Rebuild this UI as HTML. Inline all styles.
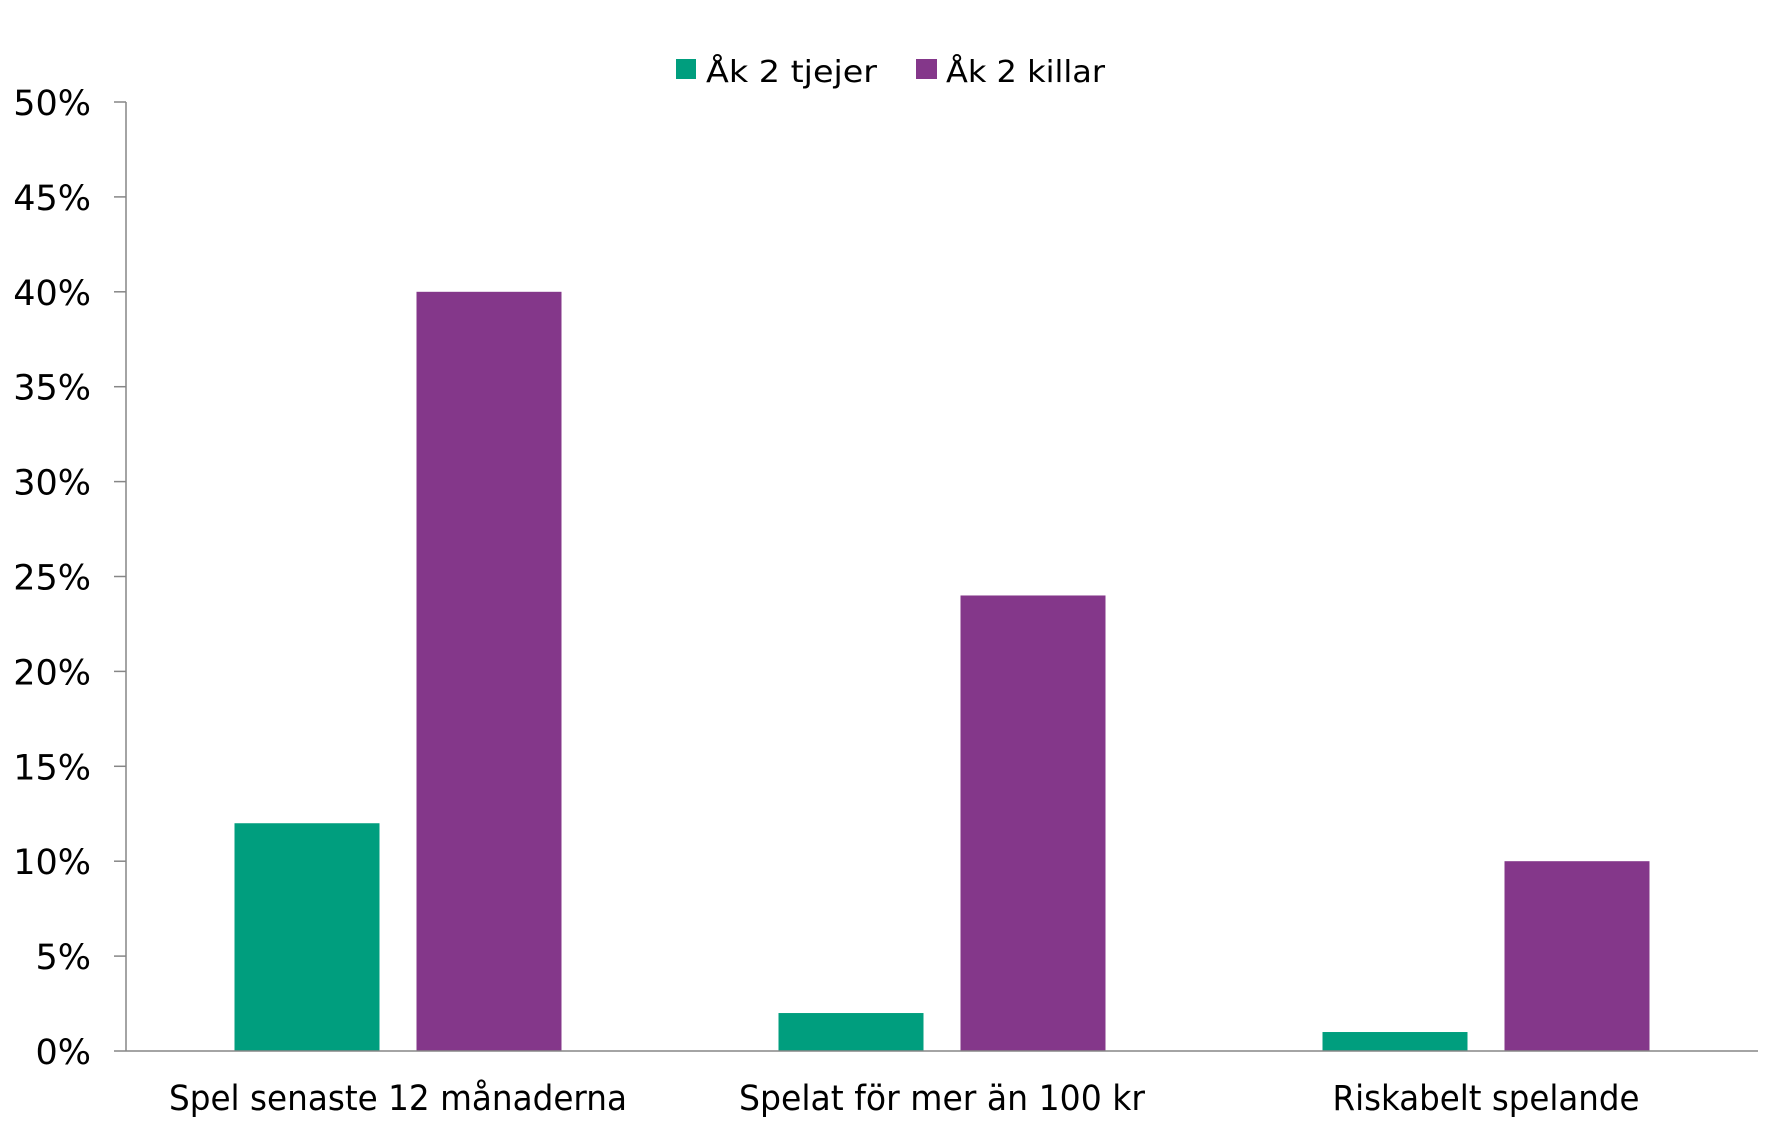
<!DOCTYPE html>
<html><head><meta charset="utf-8"><style>
html,body{margin:0;padding:0;background:#fff;}
svg{display:block;font-family:"DejaVu Sans","Liberation Sans",sans-serif;}
</style></head><body>
<svg id="chart" width="1772" height="1135" viewBox="0 0 1772 1135" xmlns="http://www.w3.org/2000/svg">
<g id="legend">
  <g>
    <rect x="676" y="59" width="20" height="20" fill="#009e7e"/>
    <text x="706" y="82" font-size="30" textLength="171" lengthAdjust="spacingAndGlyphs">Åk 2 tjejer</text>
  </g>
  <g>
    <rect x="916" y="59" width="21" height="20" fill="#84378a"/>
    <text x="946" y="82" font-size="30" textLength="159" lengthAdjust="spacingAndGlyphs">Åk 2 killar</text>
  </g>
</g>
<g id="yaxis"></g>
<g id="bars"></g>
<g id="xaxis"></g>
</svg>
<script>
const categories = ["Spel senaste 12 månaderna", "Spelat för mer än 100 kr", "Riskabelt spelande"];
const tjejer = [12, 2, 1];
const killar = [40, 24, 10];
const yTicks = [0, 5, 10, 15, 20, 25, 30, 35, 40, 45, 50];
const yTickLabels = ["0%", "5%", "10%", "15%", "20%", "25%", "30%", "35%", "40%", "45%", "50%"];

const NS = "http://www.w3.org/2000/svg";
const X0 = 126, X1 = 1758, Y0 = 1051, YTOP = 102, YMAX = 50;
function yScale(v){ return Y0 - (v / YMAX) * (Y0 - YTOP); }
const catW = (X1 - X0) / categories.length;
function catCenter(i){ return X0 + catW * (i + 0.5); }
const barW = 145, gap = 37;
function mk(tag, attrs, parent){ const e = document.createElementNS(NS, tag); for (const k in attrs) e.setAttribute(k, attrs[k]); parent.appendChild(e); return e; }

const yaxis = document.getElementById('yaxis');
const line = mk('line', {x1: X0, y1: YTOP, x2: X0, y2: Y0, stroke: '#868686', 'stroke-width': 1.5}, yaxis);


yTicks.forEach((t, i) => {
  const y = yScale(t);
  const tk = mk('line', {x1: 114, y1: y, x2: X0, y2: y, stroke: '#868686', 'stroke-width': 1.5}, yaxis);
  
  
  const lb = mk('text', {x: 91, y: y + 13, 'font-size': 35, 'text-anchor': 'end'}, yaxis);
  lb.textContent = yTickLabels[i];
  
  
});

const bars = document.getElementById('bars');
categories.forEach((c, i) => {
  const cx = catCenter(i);
  const y1 = yScale(tjejer[i]);
  const b1 = mk('rect', {x: cx - gap/2 - barW, y: y1, width: barW, height: Y0 - y1, fill: '#009e7e'}, bars);
  
  
  const y2 = yScale(killar[i]);
  const b2 = mk('rect', {x: cx + gap/2, y: y2, width: barW, height: Y0 - y2, fill: '#84378a'}, bars);
  
  
});

const xaxis = document.getElementById('xaxis');
const xl = mk('line', {x1: X0, y1: Y0, x2: X1, y2: Y0, stroke: '#868686', 'stroke-width': 1.5}, xaxis);


const labelWidths = [458, 406, 307];
categories.forEach((c, i) => {
  const t = mk('text', {x: catCenter(i), y: 1110, 'font-size': 35, 'text-anchor': 'middle', textLength: labelWidths[i], lengthAdjust: 'spacingAndGlyphs'}, xaxis);
  t.textContent = c;
  
  
});
</script>
</body></html>
